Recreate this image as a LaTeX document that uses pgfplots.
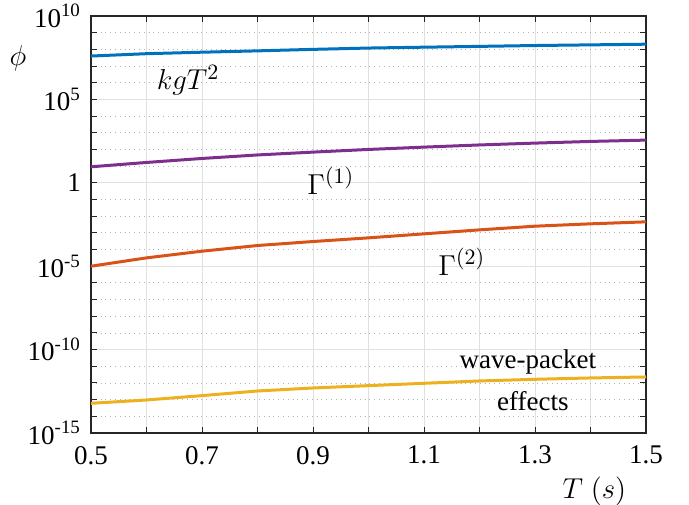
\documentclass[border=0pt]{standalone}
\usepackage{fontspec}
\setmainfont{Liberation Serif}
\newfontfamily\timesf{Liberation Serif}
\usepackage{pgfplots}
\pgfplotsset{compat=1.18}
\definecolor{mblue}{HTML}{0072BD}
\definecolor{morange}{HTML}{D95319}
\definecolor{myellow}{HTML}{EDB120}
\definecolor{mpurple}{HTML}{7E2F8E}
\definecolor{axcol}{HTML}{262626}
\begin{document}
\begin{tikzpicture}[font=\timesf\fontsize{13.5}{16}\selectfont]
\begin{axis}[
  at={(0,0)}, anchor=south west,
  scale only axis, width=277.5pt, height=208.5pt,
  xmin=0.5, xmax=1.5, ymin=1e-15, ymax=1e10, ymode=log,
  xtick={0.5,0.6,0.7,0.8,0.9,1.0,1.1,1.2,1.3,1.4,1.5},
  xticklabels={0.5,,0.7,,0.9,,1.1,,1.3,,1.5},
  ytick={1e-15,1e-10,1e-5,1,1e5,1e10},
  yticklabels={10\textsuperscript{-15},10\textsuperscript{-10},10\textsuperscript{-5},1,10\textsuperscript{5},10\textsuperscript{10}},
  minor ytick={1e-14,1e-13,1e-12,1e-11,1e-9,1e-8,1e-7,1e-6,1e-4,1e-3,1e-2,1e-1,1e1,1e2,1e3,1e4,1e6,1e7,1e8,1e9},
  grid=both,
  major grid style={color=black!12, line width=0.4pt},
  minor grid style={color=black!30, dotted, line width=0.4pt},
  tick align=inside,
  major tick length=3pt, minor tick length=3pt,
  tick style={color=axcol, line width=0.5pt},
  axis line style={color=axcol, line width=0.6pt},
  every tick label/.append style={text=black, font=\timesf\fontsize{13.5}{16}\selectfont},
  xticklabel style={yshift=-3pt},
  yticklabel style={xshift=-1.5pt},
  /pgf/number format/assume math mode=true,
  clip=false,
]
\addplot[mblue, line width=1.5pt] coordinates {
 (0.5,3.98e7) (0.6,5.50e7) (0.7,6.76e7) (0.8,8.13e7) (0.9,1.0e8) (1.0,1.20e8)
 (1.1,1.35e8) (1.2,1.51e8) (1.3,1.70e8) (1.4,1.86e8) (1.5,2.04e8)};
\addplot[mpurple, line width=1.5pt] coordinates {
 (0.5,9.12) (0.6,16.6) (0.7,28.8) (0.8,46.8) (0.9,69.2) (1.0,100)
 (1.1,138) (1.2,186) (1.3,240) (1.4,302) (1.5,363)};
\addplot[morange, line width=1.5pt] coordinates {
 (0.5,1.0e-5) (0.6,3.16e-5) (0.7,7.94e-5) (0.8,1.74e-4) (0.9,3.02e-4) (1.0,5.01e-4)
 (1.1,8.71e-4) (1.2,1.51e-3) (1.3,2.51e-3) (1.4,3.47e-3) (1.5,4.57e-3)};
\addplot[myellow, line width=1.5pt] coordinates {
 (0.5,6.03e-14) (0.6,9.55e-14) (0.7,1.74e-13) (0.8,3.31e-13) (0.9,5.01e-13) (1.0,6.92e-13)
 (1.1,9.55e-13) (1.2,1.32e-12) (1.3,1.66e-12) (1.4,2.0e-12) (1.5,2.29e-12)};
\node at (axis cs:0.675,1.45e6) {\fontsize{15.5}{17}\selectfont$kgT^2$};
\node at (axis cs:0.932,1.3) {\fontsize{15.5}{17}\selectfont$\Gamma^{(1)}$};
\node at (axis cs:1.168,1.8e-5) {\fontsize{15.5}{17}\selectfont$\Gamma^{(2)}$};
\node at (axis cs:1.287,1.8e-11) {wave-packet};
\node at (axis cs:1.296,8.3e-14) {effects};
\node at (rel axis cs:0.907,-0.139) {\fontsize{15.5}{17}\selectfont$T\ (s)$};
\node at (rel axis cs:-0.1315,0.899) {\fontsize{15.5}{17}\selectfont$\phi$};
\end{axis}
\pgfresetboundingbox
\path (-45.5pt,-35.5pt) rectangle (299pt,216.5pt);
\end{tikzpicture}
\end{document}
